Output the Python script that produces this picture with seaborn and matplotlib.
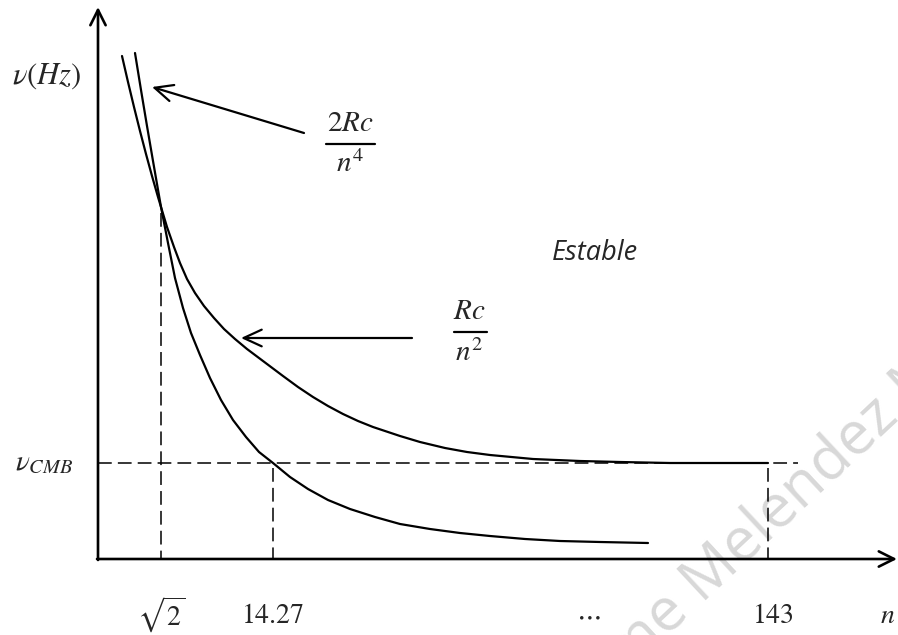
import matplotlib
matplotlib.use("Agg")
import matplotlib.pyplot as plt
import seaborn as sns
import pandas as pd

# ---- schematic data (reference frame: x to the right, y downwards) ----
# curve Rc/n^2
upper_x = [122, 128, 134, 140, 146, 152, 158, 161, 167, 174, 180, 187, 195, 204, 214, 224,
           235, 247, 259, 271, 283, 298, 313, 328, 343, 358, 373, 388, 400, 420, 445, 467,
           490, 533, 580, 620, 670, 720, 768]
upper_y = [56, 82, 107, 131, 154, 176, 197, 207, 227, 247, 263, 279, 293, 306, 318, 329,
           339, 349, 358, 367, 376, 387, 397, 406, 414, 421, 427, 432, 436, 442, 448, 452,
           455, 459, 461, 462, 463, 463, 463]
# curve 2Rc/n^4
lower_x = [135, 141, 147, 153, 161, 168, 175, 183, 191, 200, 210, 221, 233, 246, 259, 273,
           290, 308, 328, 350, 375, 400, 430, 460, 490, 525, 560, 600, 648]
lower_y = [53, 90, 126, 161, 207, 243, 278, 308, 333, 355, 378, 400, 420, 437, 452, 463,
           477, 489, 500, 509, 517, 524, 529, 533, 536, 539, 541, 542, 543]

# guide lines
axis_y0 = 559          # x-axis level
axis_x0 = 98           # y-axis position
nu_cmb_y = 463
cross_x = [161, 273, 768]          # sqrt(2), 14.27, 143
cross_top = [208, 463, 463]
tick_labels = [r"$\sqrt{2}$", r"$14.27$", r"$\cdots$", r"$143$", r"$n$"]
tick_pos = [161, 273, 588, 773, 888]

sns.set_theme(style="white")
plt.rcParams["mathtext.fontset"] = "stix"
plt.rcParams["font.family"] = ["DejaVu Sans"]

fig = plt.figure(figsize=(8.98, 6.35), dpi=100)
ax = fig.add_axes([0, 0, 1, 1])
ax.set_xlim(0, 898)
ax.set_ylim(635, 0)
ax.axis("off")

# watermark
ax.text(580, 722, "Jaime Melendez Martinez", rotation=43, rotation_mode="anchor",
        ha="left", va="baseline", fontsize=43, color="#d8d8d8",
        family="Open Sans", zorder=0)

# curves
df_u = pd.DataFrame({"x": upper_x, "y": upper_y})
df_l = pd.DataFrame({"x": lower_x, "y": lower_y})
sns.lineplot(data=df_u, x="x", y="y", sort=False, estimator=None, color="black", lw=1.6, ax=ax)
sns.lineplot(data=df_l, x="x", y="y", sort=False, estimator=None, color="black", lw=1.6, ax=ax)

# dashed guides
dash = (0, (9, 4))
h = pd.DataFrame({"x": [axis_x0, 798], "y": [nu_cmb_y, nu_cmb_y]})
sns.lineplot(data=h, x="x", y="y", sort=False, estimator=None, color="black", lw=1.1, ls=dash, ax=ax)
for cx, ct in zip(cross_x, cross_top):
    v = pd.DataFrame({"x": [cx, cx], "y": [ct + 5, axis_y0]})
    sns.lineplot(data=v, x="x", y="y", sort=False, estimator=None, color="black", lw=1.1, ls=dash, ax=ax)

# axes arrows
ap = dict(arrowstyle="->,head_length=1.1,head_width=0.55", lw=1.9, color="black",
          shrinkA=0, shrinkB=0, mutation_scale=10)
ax.annotate("", xy=(axis_x0, 7), xytext=(axis_x0, axis_y0 + 1), arrowprops=ap)
ax.annotate("", xy=(897, axis_y0), xytext=(axis_x0 - 1, axis_y0), arrowprops=ap)

# label arrows
ap2 = dict(arrowstyle="->,head_length=1.3,head_width=0.6", lw=1.6, color="black",
           shrinkA=0, shrinkB=0, mutation_scale=10)
ax.annotate("", xy=(152, 87), xytext=(304, 133), arrowprops=ap2)
ax.annotate("", xy=(241, 338), xytext=(412, 338), arrowprops=ap2)

# fraction labels
fs = 21
ax.text(350, 131, r"$2Rc$", ha="center", va="baseline", fontsize=fs)
ax.plot([326, 375], [144, 144], color="black", lw=1.6)
ax.text(350, 172, r"$n^4$", ha="center", va="baseline", fontsize=fs)

ax.text(469, 319, r"$Rc$", ha="center", va="baseline", fontsize=fs)
ax.plot([454, 487], [332, 332], color="black", lw=1.6)
ax.text(469, 361, r"$n^2$", ha="center", va="baseline", fontsize=fs)

# axis labels
ax.text(47, 84, r"$\nu(Hz)$", ha="center", va="baseline", fontsize=22)
ax.text(44, 470, r"$\nu_{CMB}$", ha="center", va="baseline", fontsize=21)
for lab, xp in zip(tick_labels, tick_pos):
    ax.text(xp, 615, lab, ha="center", va="center", fontsize=20)

ax.text(595, 260, "Estable", ha="center", va="baseline", fontsize=19.5,
        style="italic", family="Open Sans")

fig.savefig("out.png", dpi=100)
